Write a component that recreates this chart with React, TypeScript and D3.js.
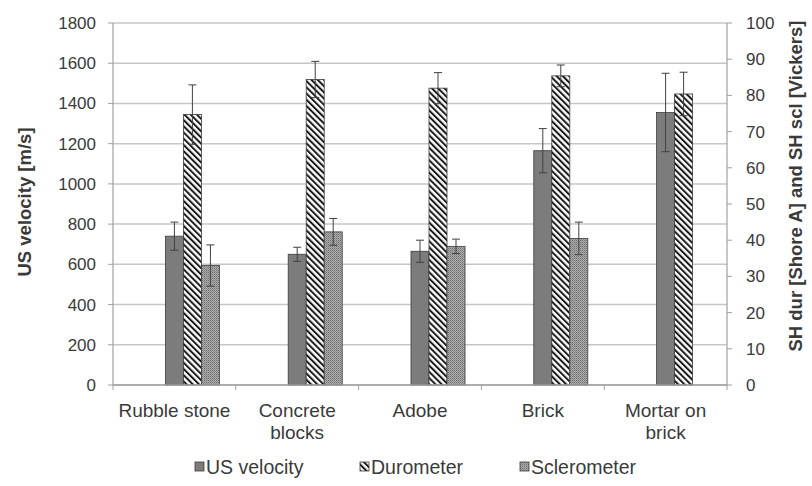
import React from "react";
import * as d3 from "d3";

// Material categories (label lines as printed under the axis)
const categories = ["Rubble stone", "Concrete blocks", "Adobe", "Brick", "Mortar on brick"];
const categoryLines = [["Rubble stone"], ["Concrete", "blocks"], ["Adobe"], ["Brick"], ["Mortar on", "brick"]];

// Ultrasonic velocity [m/s], primary axis
const usVelocity = [740, 650, 665, 1165, 1355];
const usVelocityErr = [70, 35, 55, 110, 195];

// Surface hardness, secondary axis
const durometer = [74.7, 84.4, 82.0, 85.4, 80.4];
const durometerErr = [8.2, 5.0, 4.3, 3.0, 6.0];
const sclerometer: (number | null)[] = [33.0, 42.3, 38.3, 40.5, null];
const sclerometerErr: (number | null)[] = [5.7, 3.7, 2.0, 4.5, null];

const leftTicks = [0, 200, 400, 600, 800, 1000, 1200, 1400, 1600, 1800];
const rightTicks = [0, 10, 20, 30, 40, 50, 60, 70, 80, 90, 100];

const seriesNames = ["US velocity", "Durometer", "Sclerometer"];
const slotKeys = ["pad-a", "pad-b", ...seriesNames];

const W = 812;
const H = 486;
const M = { left: 113, right: 727, top: 23, bottom: 385 };
const FONT = "'Liberation Sans', Arial, sans-serif";
const TEXT = "#3a3a3a";

export default function App() {
  const x = d3.scaleBand<string>().domain(categories).range([M.left, M.right]).padding(0);
  const slot = d3
    .scaleBand<string>()
    .domain(slotKeys)
    .range([0, x.bandwidth()])
    .paddingInner(0)
    .paddingOuter(0.91);
  const yL = d3.scaleLinear().domain([0, 1800]).range([M.bottom, M.top]);
  const yR = d3.scaleLinear().domain([0, 100]).range([M.bottom, M.top]);
  const bw = slot.bandwidth();

  const fills: Record<string, string> = {
    "US velocity": "#7c7c7c",
    Durometer: "url(#stripes)",
    Sclerometer: "url(#dots)",
  };

  type Bar = { cat: string; series: string; v: number; e: number; y: d3.ScaleLinear<number, number> };
  const bars: Bar[] = [];
  categories.forEach((c, i) => {
    bars.push({ cat: c, series: "US velocity", v: usVelocity[i], e: usVelocityErr[i], y: yL });
    bars.push({ cat: c, series: "Durometer", v: durometer[i], e: durometerErr[i], y: yR });
    const s = sclerometer[i];
    if (s != null) bars.push({ cat: c, series: "Sclerometer", v: s, e: sclerometerErr[i] ?? 0, y: yR });
  });

  const legendX = [195, 360, 520];

  return (
    <svg width={W} height={H} style={{ display: "block", position: "absolute", left: 0, top: 0 }}>
      <defs>
        <pattern id="stripes" patternUnits="userSpaceOnUse" width={4.4} height={4.4} patternTransform="rotate(-45)">
          <rect width={4.4} height={4.4} fill="#ffffff" />
          <rect width={2} height={4.4} fill="#1a1a1a" />
        </pattern>
        <pattern id="dots" patternUnits="userSpaceOnUse" width={2} height={2}>
          <rect width={2} height={2} fill="#acacac" />
          <rect width={1} height={1} fill="#6e6e6e" />
          <rect x={1} y={1} width={1} height={1} fill="#8c8c8c" />
        </pattern>
      </defs>
      <rect width={W} height={H} fill="#ffffff" />

      {/* gridlines */}
      {leftTicks.map((t) => (
        <line key={t} x1={M.left} x2={M.right} y1={yL(t)} y2={yL(t)} stroke="#c6c6c6" strokeWidth={1.5} />
      ))}

      {/* axes */}
      <line x1={M.left} x2={M.left} y1={M.top} y2={M.bottom} stroke="#a0a0a0" strokeWidth={1.2} />
      <line x1={M.right} x2={M.right} y1={M.top} y2={M.bottom} stroke="#a0a0a0" strokeWidth={1.2} />
      {leftTicks.map((t) => (
        <g key={"l" + t}>
          <line x1={M.left - 5} x2={M.left} y1={yL(t)} y2={yL(t)} stroke="#a0a0a0" />
          <text x={96} y={yL(t)} dy="0.35em" textAnchor="end" fontFamily={FONT} fontSize={17} fill={TEXT}>
            {t}
          </text>
        </g>
      ))}
      {rightTicks.map((t) => (
        <g key={"r" + t}>
          <line x1={M.right} x2={M.right + 5} y1={yR(t)} y2={yR(t)} stroke="#a0a0a0" />
          <text x={746} y={yR(t)} dy="0.35em" textAnchor="start" fontFamily={FONT} fontSize={17} fill={TEXT}>
            {t}
          </text>
        </g>
      ))}

      {/* bars */}
      {bars.map((b) => {
        const bx = (x(b.cat) ?? 0) + (slot(b.series) ?? 0);
        const top = b.y(b.v);
        return (
          <rect
            key={b.cat + b.series}
            x={bx}
            y={top}
            width={bw}
            height={M.bottom - top}
            fill={fills[b.series]}
            stroke="#3c3c3c"
            strokeWidth={0.8}
          />
        );
      })}

      {/* error bars */}
      {bars.map((b) => {
        const cx = (x(b.cat) ?? 0) + (slot(b.series) ?? 0) + bw / 2;
        const hi = b.y(b.v + b.e);
        const lo = b.y(b.v - b.e);
        return (
          <g key={"e" + b.cat + b.series} stroke="#404040" strokeWidth={1}>
            <line x1={cx} x2={cx} y1={hi} y2={lo} />
            <line x1={cx - 4} x2={cx + 4} y1={hi} y2={hi} />
            <line x1={cx - 4} x2={cx + 4} y1={lo} y2={lo} />
          </g>
        );
      })}

      {/* category axis */}
      <line x1={M.left} x2={M.right} y1={M.bottom} y2={M.bottom} stroke="#a0a0a0" strokeWidth={1.4} />
      {[...categories.map((c) => x(c) ?? 0), M.right].map((px, i) => (
        <line key={"t" + i} x1={px} x2={px} y1={M.bottom} y2={M.bottom + 5} stroke="#a0a0a0" />
      ))}
      {categories.map((c, i) => (
        <text
          key={"c" + c}
          x={(x(c) ?? 0) + x.bandwidth() / 2}
          y={417}
          textAnchor="middle"
          fontFamily={FONT}
          fontSize={19}
          fill={TEXT}
        >
          {categoryLines[i].map((ln, j) => (
            <tspan key={j} x={(x(c) ?? 0) + x.bandwidth() / 2} dy={j === 0 ? 0 : 22}>
              {ln}
            </tspan>
          ))}
        </text>
      ))}

      {/* axis titles */}
      <text
        transform={`translate(31, ${(M.top + M.bottom) / 2 - 2}) rotate(-90)`}
        textAnchor="middle"
        fontFamily={FONT}
        fontSize={18.5}
        fontWeight="bold"
        fill={TEXT}
      >
        US velocity [m/s]
      </text>
      <text
        transform={`translate(802, ${(M.top + M.bottom) / 2 - 18}) rotate(-90)`}
        textAnchor="middle"
        fontFamily={FONT}
        fontSize={18.5}
        fontWeight="bold"
        fill={TEXT}
      >
        SH dur [Shore A] and SH scl [Vickers]
      </text>

      {/* legend */}
      {seriesNames.map((s, i) => (
        <g key={"lg" + s}>
          <rect
            x={legendX[i]}
            y={462}
            width={9}
            height={9}
            fill={fills[s]}
            stroke="#3c3c3c"
            strokeWidth={0.8}
          />
          <text x={legendX[i] + 11} y={467} dy="0.35em" fontFamily={FONT} fontSize={19.5} fill={TEXT}>
            {s}
          </text>
        </g>
      ))}
    </svg>
  );
}
